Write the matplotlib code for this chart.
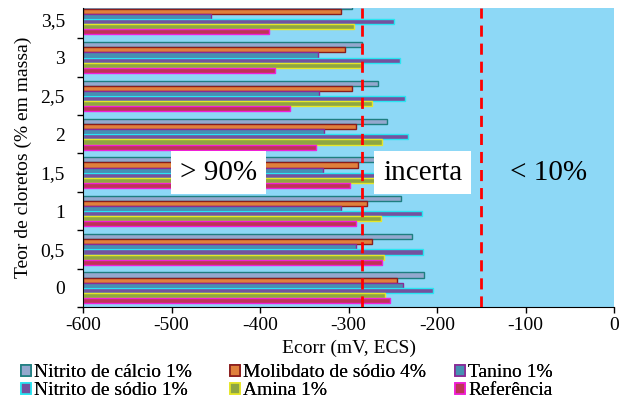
import matplotlib
matplotlib.use('Agg')
import matplotlib.pyplot as plt
from matplotlib.patches import Patch
import numpy as np

plt.rcParams['font.family'] = ['Liberation Serif', 'DejaVu Serif']

categories = ["0", "0,5", "1", "1,5", "2", "2,5", "3", "3,5"]
series_names = ["Nitrito de cálcio 1%", "Molibdato de sódio 4%", "Tanino 1%",
                "Nitrito de sódio 1%", "Amina 1%", "Referência"]
nitrito_calcio = [-215, -228, -241, -245, -256, -267, -285, -296]
molibdato = [-245, -273, -279, -289, -292, -296, -304, -309]
tanino = [-238, -291, -308, -329, -328, -333, -335, -455]
nitrito_sodio = [-204, -216, -217, -225, -233, -236, -242, -249]
amina = [-259, -260, -263, -268, -262, -274, -286, -294]
referencia = [-253, -262, -292, -298, -337, -366, -383, -390]
xticks = [-600, -500, -400, -300, -200, -100, 0]
limits = [-285, -150]

fills = ['#94A8CE', '#E0803C', '#4690B2', '#74529E', '#8EA642', '#BE3456']
edges = ['#1E7E80', '#8A1C1C', '#8A2A96', '#28E6F2', '#E6E628', '#F020D8']
all_series = [nitrito_calcio, molibdato, tanino, nitrito_sodio, amina, referencia]

fig = plt.figure(figsize=(6.27, 4.0), dpi=100)
ax = fig.add_axes([83/627, 1-307/400, (614-83)/627, (307-8)/400])
ax.set_facecolor('#8DD8F6')

base = -600
y = np.arange(len(categories))
h = 0.8 / 6
for i, (vals, fc, ec) in enumerate(zip(all_series, fills, edges)):
    off = 0.4 - h/2 - i*h
    ax.barh(y + off, np.array(vals) - base, left=base, height=h,
            color=fc, edgecolor=ec, linewidth=1.0, zorder=2)

for v in limits:
    ax.axvline(v, color='#FF0000', lw=2.0, dashes=(4, 2.5), zorder=3)

tb = dict(boxstyle='square,pad=0.3', facecolor='white', edgecolor='none')
ax.text(-447, 3, '> 90%', fontsize=21, ha='center', va='center', bbox=tb, zorder=4)
ax.text(-216, 3, 'incerta', fontsize=21, ha='center', va='center', bbox=tb, zorder=4)
ax.text(-74, 3, '< 10%', fontsize=21, ha='center', va='center', zorder=4)

ax.set_xlim(-600, 0)
ax.set_ylim(-0.5, 7.29)
ax.set_xticks(xticks)
ax.set_xticklabels([str(t) for t in xticks], fontsize=14)
ax.tick_params(axis='x', direction='out', length=4, width=1, pad=3)

ax.set_yticks(np.arange(-0.5, 7.5, 1.0))
ax.set_yticklabels([])
ax.tick_params(axis='y', which='major', direction='out', length=4, width=1)
ax.set_yticks(y, minor=True)
ax.set_yticklabels(categories, minor=True, fontsize=14)
ax.tick_params(axis='y', which='minor', length=0, pad=13)

for s in ['top', 'right']:
    ax.spines[s].set_visible(False)
ax.spines['left'].set_color('black')
ax.spines['bottom'].set_color('black')

ax.set_xlabel('Ecorr (mV, ECS)', fontsize=14, labelpad=4)
ax.set_ylabel('Teor de cloretos (% em massa)', fontsize=14, labelpad=6)

handles = [Patch(facecolor=fc, edgecolor=ec, linewidth=1.2, label=n)
           for fc, ec, n in zip(fills, edges, series_names)]
col_x = [13/627, 222/627, 447/627]
for c in range(3):
    idx = [c, c + 3]
    lg = fig.legend([handles[i] for i in idx], [series_names[i] for i in idx],
                    ncol=1, loc='lower left', bbox_to_anchor=(col_x[c], -0.018),
                    frameon=False, fontsize=14, handlelength=0.55, handleheight=0.55,
                    handletextpad=0.15, labelspacing=0.05, borderaxespad=0.0)
    fig.add_artist(lg)

fig.savefig('out.png', dpi=100)
